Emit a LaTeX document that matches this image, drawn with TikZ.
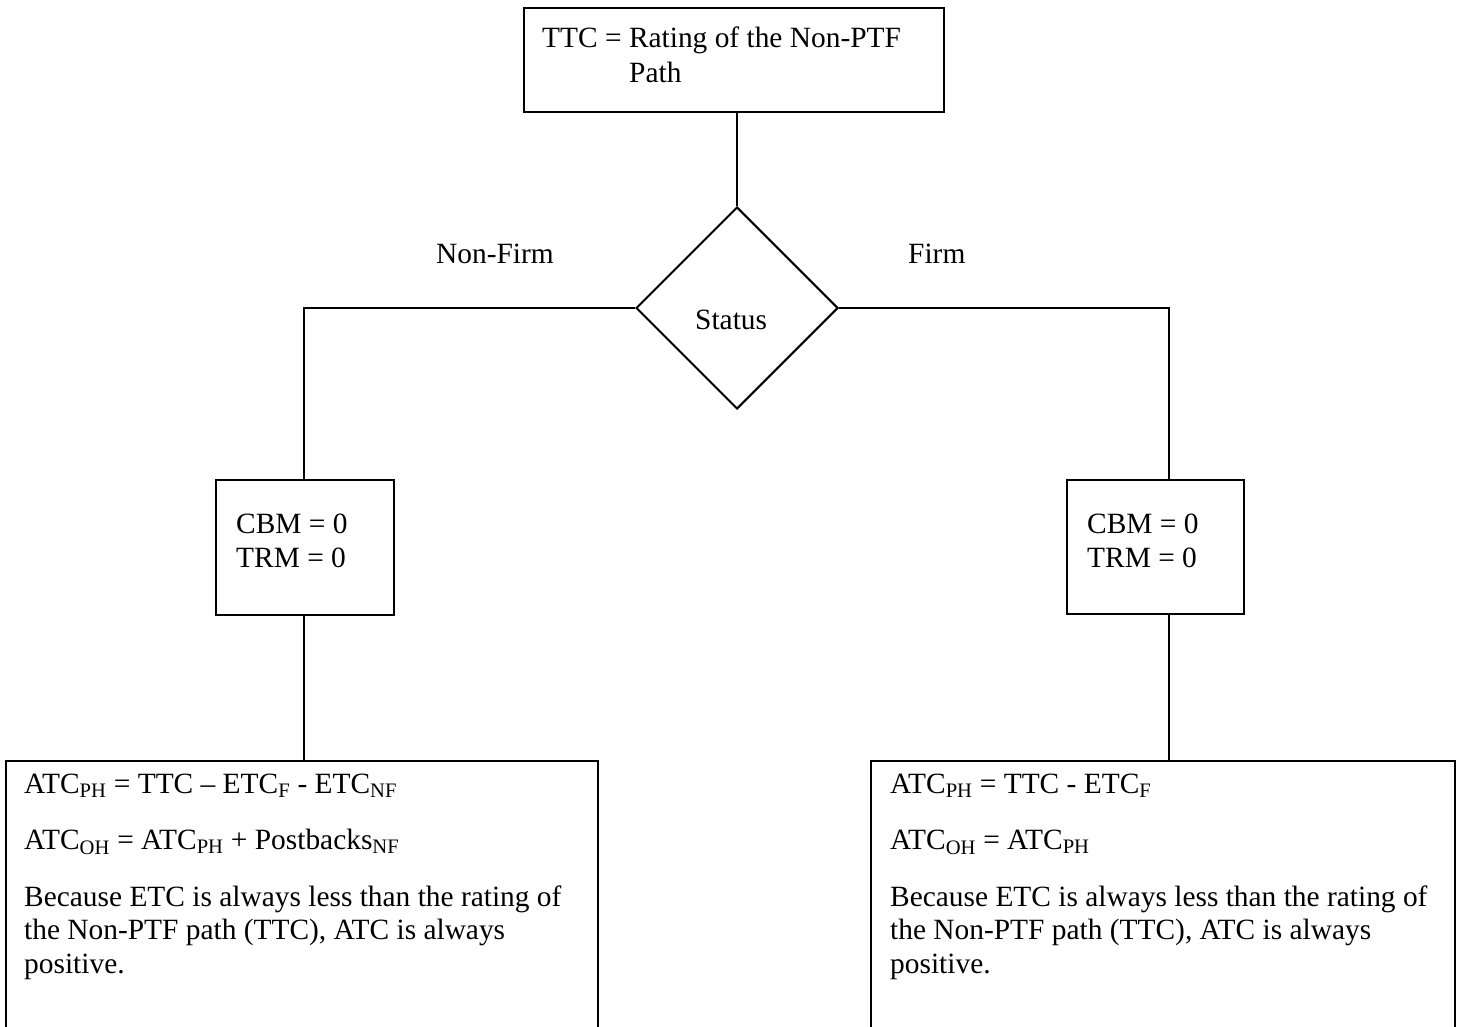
\documentclass[tikz,border=0pt]{standalone}
\usepackage{fontspec}
\setmainfont{Liberation Serif}
\usetikzlibrary{shapes.geometric}
\begin{document}
\begin{tikzpicture}[x=1pt,y=-1pt,
  box/.style={draw, line width=2pt, rectangle, inner sep=0pt, anchor=north west},
  dia/.style={draw, line width=2pt, diamond, inner sep=0pt, minimum width=202pt, minimum height=202pt},
  conn/.style={line width=2pt},
  txt/.style={anchor=base west, inner sep=0pt, font=\fontsize{29.4}{33.5}\selectfont},
  lbl/.style={anchor=base west, inner sep=0pt, font=\fontsize{29.4}{33.5}\selectfont}]
\useasboundingbox (0,0) rectangle (1460,1027);
\clip (0,0) rectangle (1460,1027);
% boxes
\node[box, minimum width=420pt, minimum height=104pt] (top) at (523,7) {};
\node[dia] (status) at (737,308) {};
\node[box, minimum width=178pt, minimum height=135pt] (lsmall) at (215,479) {};
\node[box, minimum width=177pt, minimum height=134pt] (rsmall) at (1066,479) {};
\node[box, minimum width=592pt, minimum height=320pt] (lbig) at (5,760) {};
\node[box, minimum width=584pt, minimum height=320pt] (rbig) at (870,760) {};
% texts
\node[txt] (t1) at (542,48) {TTC = Rating of the Non-PTF};
\node[txt] (t2) at (629,83) {Path};
\node[txt] (st) at (695,330) {Status};
\node[lbl] (nf) at (436,264) {Non-Firm};
\node[lbl] (fi) at (908,264) {Firm};
\node[txt] (lc1) at (236,533) {CBM = 0};
\node[txt] (lc2) at (236,567) {TRM = 0};
\node[txt] (rc1) at (1087,533) {CBM = 0};
\node[txt] (rc2) at (1087,567) {TRM = 0};
\node[txt] (l1) at (24,793) {ATC\textsubscript{PH} = TTC – ETC\textsubscript{F} - ETC\textsubscript{NF}};
\node[txt] (l2) at (24,849) {ATC\textsubscript{OH} = ATC\textsubscript{PH} + Postbacks\textsubscript{NF}};
\node[txt] (l3) at (24,906) {Because ETC is always less than the rating of};
\node[txt] (l4) at (24,939) {the Non-PTF path (TTC), ATC is always};
\node[txt] (l5) at (24,973) {positive.};
\node[txt] (r1) at (890,793) {ATC\textsubscript{PH} = TTC - ETC\textsubscript{F}};
\node[txt] (r2) at (890,849) {ATC\textsubscript{OH} = ATC\textsubscript{PH}};
\node[txt] (r3) at (890,906) {Because ETC is always less than the rating of};
\node[txt] (r4) at (890,939) {the Non-PTF path (TTC), ATC is always};
\node[txt] (r5) at (890,973) {positive.};
% connectors
\draw[conn] ([xshift=3pt]top.south) -- (status.north);
\draw[conn] (status.west) -| ([xshift=-1.5pt]lsmall.north);
\draw[conn] (status.east) -| ([xshift=13.5pt]rsmall.north);
\draw[conn] ([xshift=-1.5pt]lsmall.south) -- ([xshift=-1.5pt]lsmall.south |- lbig.north);
\draw[conn] ([xshift=13.5pt]rsmall.south) -- ([xshift=13.5pt]rsmall.south |- rbig.north);
\end{tikzpicture}
\end{document}
